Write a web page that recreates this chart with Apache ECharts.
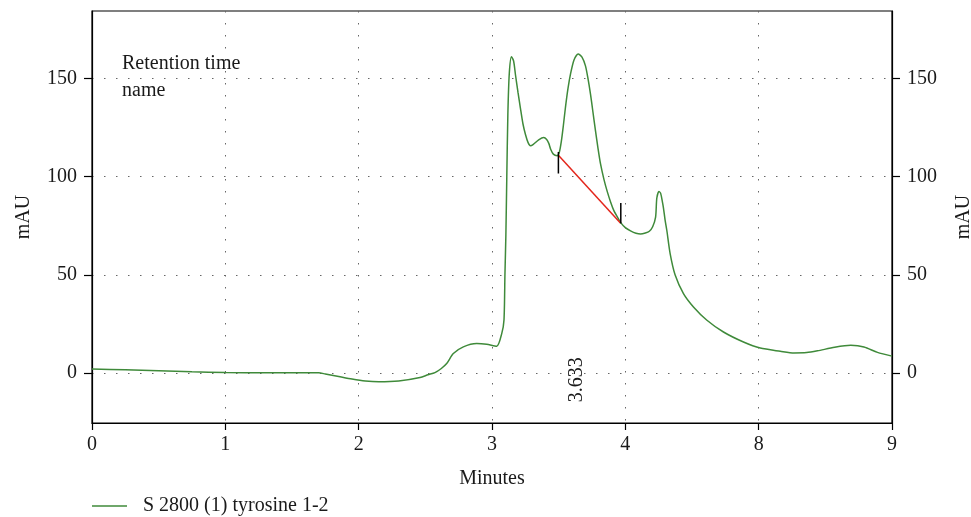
<!DOCTYPE html>
<html>
<head>
<meta charset="utf-8">
<script src="https://cdn.jsdelivr.net/npm/echarts@6/dist/echarts.min.js"></script>
<style>
html,body{margin:0;padding:0;background:#fff;}
#chart{width:971px;height:517px;}
</style>
</head>
<body>
<div id="chart"></div>
<script>
// x values are positions along the (evenly spaced) tick axis; tick labels below
var xTickLabels = ['0', '1', '2', '3', '4', '8', '9'];
var yTickValues = [0, 50, 100, 150];
var seriesName = 'S 2800 (1) tyrosine 1-2';

var signal = [
  [0, 2.0], [0.25, 1.5], [0.5, 1.0], [0.75, 0.5], [1.0, 0.1], [1.3, 0], [1.7, 0],
  [1.75, -0.6], [1.85, -1.9], [1.95, -3.2], [2.05, -4.2], [2.15, -4.6], [2.3, -4.2],
  [2.46, -2.4], [2.52, -1.0], [2.572, 0.1], [2.62, 2.2], [2.66, 4.7], [2.71, 9.8],
  [2.785, 13.2], [2.885, 14.9], [2.96, 14.5], [3.035, 13.5],
  [3.073, 20], [3.09, 27], [3.097, 50], [3.104, 70], [3.111, 100], [3.119, 132],
  [3.13, 153], [3.146, 161.2], [3.162, 159], [3.176, 152], [3.195, 143], [3.213, 135],
  [3.232, 127], [3.251, 121.5], [3.27, 117.5], [3.288, 115.8], [3.31, 116.5],
  [3.35, 118.8], [3.388, 120], [3.41, 119], [3.426, 117], [3.44, 114], [3.46, 111.5],
  [3.489, 110.7], [3.505, 112.5], [3.52, 118], [3.535, 126], [3.551, 135.4],
  [3.57, 145], [3.589, 152.4], [3.615, 159.5], [3.646, 162.6], [3.675, 161],
  [3.701, 156.5], [3.72, 150], [3.739, 142], [3.757, 133], [3.776, 123.5],
  [3.795, 114.5], [3.814, 106.5], [3.84, 98.5], [3.864, 92.5], [3.89, 87],
  [3.914, 82.7], [3.94, 79.5], [3.964, 76.7], [4.0, 74], [4.039, 72.4], [4.08, 71.2],
  [4.114, 70.8], [4.15, 71.3], [4.18, 72.2], [4.205, 74.5], [4.227, 79.4], [4.236, 89],
  [4.252, 92.5], [4.265, 91.5], [4.277, 87.5], [4.286, 84], [4.298, 78], [4.311, 72.7],
  [4.336, 60.8], [4.373, 50], [4.436, 40.4], [4.511, 33.6], [4.612, 26.8],
  [4.736, 20.8], [4.886, 15.7], [5.012, 12.6], [5.162, 11.0], [5.265, 10.1],
  [5.36, 10.3], [5.441, 11.2], [5.57, 13.0], [5.691, 14.0], [5.79, 13.2],
  [5.891, 10.4], [6.0, 8.5]
];

var baseline = [[3.498, 110.9], [3.963, 76.4]];
var startMark = [[3.498, 112.6], [3.498, 101.6]];
var endMark = [[3.966, 86.6], [3.966, 76.1]];
var peakLabel = '3.633';
var peakLabelPos = [3.633, -3.5];

var FONT = '"Liberation Serif", "DejaVu Serif", serif';
var FS = 20;
var TXT = '#1a1a1a';
var gridDots = { color: '#666', width: 1, type: [1.5, 10.5] };

var chart = echarts.init(document.getElementById('chart'), null, { renderer: 'canvas' });

function yAxisDef(pos) {
  return {
    type: 'value', position: pos, min: -25.6, max: 184.5,
    name: 'mAU', nameLocation: 'middle', nameRotate: 90, nameGap: pos === 'left' ? 58 : 62,
    nameTextStyle: { fontFamily: FONT, fontSize: FS, color: TXT },
    axisLine: { show: true, onZero: false, lineStyle: { color: '#000', width: 1.2 } },
    axisTick: { show: true, length: 8, customValues: yTickValues, lineStyle: { color: '#000', width: 1.2 } },
    axisLabel: { show: true, margin: 15, customValues: yTickValues, fontFamily: FONT, fontSize: FS, color: TXT },
    splitLine: { show: pos === 'left', lineStyle: gridDots }
  };
}

var option = {
  animation: false,
  backgroundColor: '#fff',
  grid: {
    left: 92, right: 79, top: 11, bottom: 94, show: true, borderColor: '#000', borderWidth: 1.2,
    containLabel: false, outerBoundsMode: 'none'
  },
  xAxis: {
    type: 'value', min: 0, max: 6, interval: 1,
    name: 'Minutes', nameLocation: 'middle', nameGap: 46,
    nameTextStyle: { fontFamily: FONT, fontSize: FS, color: TXT },
    axisLine: { show: true, onZero: false, lineStyle: { color: '#000', width: 1.2 } },
    axisTick: { show: true, length: 7, lineStyle: { color: '#000', width: 1.2 } },
    axisLabel: {
      margin: 12, fontFamily: FONT, fontSize: FS, color: TXT,
      formatter: function (v) { return xTickLabels[Math.round(v)]; }
    },
    splitLine: { show: true, lineStyle: gridDots }
  },
  yAxis: [yAxisDef('left'), yAxisDef('right')],
  legend: {
    left: 92, top: 496, padding: 0, icon: 'rect', itemWidth: 35, itemHeight: 1.5,
    data: [seriesName],
    textStyle: { fontFamily: FONT, fontSize: FS, color: TXT, padding: [0, 0, 0, 11] }
  },
  series: [
    {
      name: seriesName, type: 'line', data: signal, showSymbol: false, symbol: 'none',
      smooth: 0.25,
      lineStyle: { color: '#3f8a3a', width: 1.5 }, itemStyle: { color: '#3f8a3a' }, z: 3
    },
    {
      name: 'baseline', type: 'line', data: baseline, symbol: 'none',
      lineStyle: { color: '#e3261c', width: 1.5 }, z: 4
    },
    {
      name: 'start', type: 'line', data: startMark, symbol: 'none',
      lineStyle: { color: '#000', width: 1.5 }, z: 5
    },
    {
      name: 'end', type: 'line', data: endMark, symbol: 'none',
      lineStyle: { color: '#000', width: 1.5 }, z: 5
    }
  ]
};
chart.setOption(option);

var p = chart.convertToPixel({ gridIndex: 0 }, peakLabelPos);
chart.setOption({
  graphic: [
    {
      type: 'text', left: 122, top: 50,
      style: { text: 'Retention time\nname', font: FS + 'px ' + FONT, fill: TXT, lineHeight: 27 }
    },
    {
      type: 'text', x: p[0], y: p[1], rotation: Math.PI / 2,
      style: { text: peakLabel, font: FS + 'px ' + FONT, fill: TXT, align: 'center', verticalAlign: 'middle' }
    }
  ]
});
</script>
</body>
</html>
